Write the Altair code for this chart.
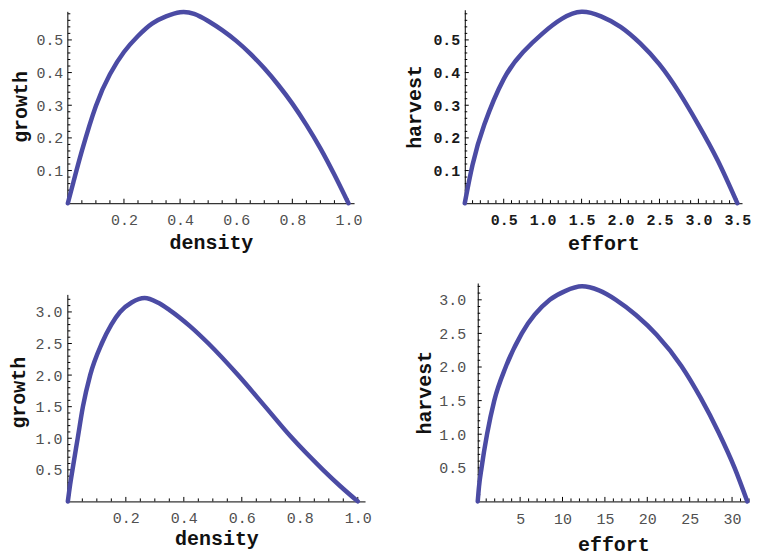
import altair as alt
import pandas as pd

FONT = "Liberation Mono"
LINE_COLOR = "#4b4ba4"
GRAY = "#505050"

# ---- Panel A (top-left): density vs growth
a_density = [0, 0.02, 0.05, 0.10, 0.15, 0.20, 0.25, 0.30, 0.35, 0.40, 0.45, 0.50, 0.55, 0.60, 0.65, 0.70, 0.75, 0.80, 0.85, 0.90, 0.95, 1.0]
a_growth = [0, 0.065, 0.16, 0.298, 0.395, 0.463, 0.512, 0.55, 0.572, 0.585, 0.580, 0.558, 0.53, 0.497, 0.458, 0.413, 0.362, 0.305, 0.24, 0.168, 0.087, 0]

# ---- Panel B (top-right): effort vs harvest
b_effort = [0, 0.1, 0.25, 0.5, 0.75, 1.0, 1.25, 1.5, 1.75, 2.0, 2.25, 2.5, 2.75, 3.0, 3.25, 3.5]
b_harvest = [0, 0.118, 0.24, 0.38, 0.463, 0.52, 0.565, 0.586, 0.572, 0.54, 0.49, 0.425, 0.34, 0.24, 0.13, 0]

# ---- Panel C (bottom-left): density vs growth
c_density = [0, 0.008, 0.016, 0.034, 0.052, 0.077, 0.117, 0.15, 0.18, 0.22, 0.265, 0.31, 0.351, 0.42, 0.485, 0.587, 0.677, 0.768, 0.88, 0.94, 1.0]
c_growth = [0, 0.27, 0.5, 1.0, 1.5, 2.0, 2.5, 2.8, 3.0, 3.15, 3.22, 3.15, 3.03, 2.78, 2.5, 2.0, 1.52, 1.03, 0.5, 0.24, 0]

# ---- Panel D (bottom-right): effort vs harvest
d_effort = [0, 0.15, 0.45, 1.1, 1.95, 3.3, 5.2, 8.5, 10.3, 12.3, 14.3, 16.3, 18.7, 21.1, 24.0, 26.3, 28.4, 30.3, 31.8]
d_harvest = [0, 0.22, 0.5, 1.0, 1.5, 2.0, 2.5, 3.0, 3.13, 3.2, 3.14, 3.0, 2.77, 2.48, 2.02, 1.54, 1.03, 0.5, 0]

# ---- tick labels / tick positions
a_x_major = [0.2, 0.4, 0.6, 0.8, 1.0]
a_x_minor = [round(i * 0.05, 2) for i in range(1, 21) if i % 4]
a_y_major = [0.1, 0.2, 0.3, 0.4, 0.5]
a_y_minor = [round(i * 0.02, 2) for i in range(1, 30) if i % 5]

b_x_major = [0.5, 1.0, 1.5, 2.0, 2.5, 3.0, 3.5]
b_x_minor = [round(i * 0.1, 1) for i in range(1, 36) if i % 5]
b_y_major = a_y_major
b_y_minor = a_y_minor

c_x_major = a_x_major
c_x_minor = a_x_minor
c_y_major = [0.5, 1.0, 1.5, 2.0, 2.5, 3.0]
c_y_minor = [round(i * 0.1, 1) for i in range(1, 33) if i % 5]

d_x_major = [5, 10, 15, 20, 25, 30]
d_x_minor = [i for i in range(1, 33) if i % 5]
d_y_major = c_y_major
d_y_minor = c_y_minor


def panel(xs, ys, xname, yname, xdom, ydom, w, h,
          x_major, x_minor, y_major, y_minor, xfmt, yfmt,
          label_color, label_weight, x_lp, x_tp, y_lp, y_tp, y_line_top=None,
          interp="monotone"):
    df = pd.DataFrame({xname: xs, yname: ys})
    xscale = alt.Scale(domain=xdom, nice=False, zero=False)
    yscale = alt.Scale(domain=ydom, nice=False, zero=False)
    common = dict(ticks=False, grid=False, domainColor="#000000", domainWidth=1,
                  labelFont=FONT, labelFontSize=15, labelColor=label_color,
                  labelFontWeight=label_weight, labelFlush=False, labelOverlap=False,
                  titleFont=FONT, titleFontSize=20, titleFontWeight="bold",
                  titleColor="#111111")
    xaxis = alt.Axis(values=x_major, format=xfmt, title=xname, labelPadding=x_lp,
                     titlePadding=x_tp, **common)
    yaxis = alt.Axis(values=y_major, format=yfmt, title=yname, labelPadding=y_lp,
                     titlePadding=y_tp, domain=(y_line_top is None), **common)

    line = alt.Chart(df).mark_line(color=LINE_COLOR, strokeWidth=4.5,
                                   interpolate=interp, strokeCap="round",
                                   strokeJoin="round").encode(
        x=alt.X(f"{xname}:Q", scale=xscale, axis=xaxis),
        y=alt.Y(f"{yname}:Q", scale=yscale, axis=yaxis),
    )

    def xticks(vals, ln):
        return alt.Chart(pd.DataFrame({xname: vals})).mark_rule(
            color="#000000", strokeWidth=1).encode(
            x=alt.X(f"{xname}:Q", scale=xscale, axis=xaxis),
            y=alt.value(h), y2=alt.value(h - ln))

    def yticks(vals, ln):
        return alt.Chart(pd.DataFrame({yname: vals})).mark_rule(
            color="#000000", strokeWidth=1).encode(
            y=alt.Y(f"{yname}:Q", scale=yscale, axis=yaxis),
            x=alt.value(0), x2=alt.value(ln))

    layers = [xticks(x_minor, 3), xticks(x_major, 4.5),
              yticks(y_minor, 2.5), yticks(y_major, 4)]
    if y_line_top is not None:
        ydf = pd.DataFrame({yname: [0], "top": [y_line_top]})
        layers.append(alt.Chart(ydf).mark_rule(color="#000000", strokeWidth=1).encode(
            y=alt.Y(f"{yname}:Q", scale=yscale, axis=yaxis),
            y2=alt.Y2("top:Q"),
            x=alt.value(0)))
    layers.append(line)
    return alt.layer(*layers).properties(width=w, height=h)


pa = panel(a_density, a_growth, "density", "growth", [0, 1.02], [0, 0.5924], 287, 194,
           a_x_major, a_x_minor, a_y_major, a_y_minor, ".1f", ".1f",
           GRAY, "normal", 9, 5, 5, 5, y_line_top=0.586, interp="natural")
pb = panel(b_effort, b_harvest, "effort", "harvest", [0, 3.56], [0, 0.5924], 278, 194,
           b_x_major, b_x_minor, b_y_major, b_y_minor, ".1f", ".1f",
           "#1a1a1a", "bold", 9, 6, 5, 8, interp="natural")
pc = panel(c_density, c_growth, "density", "growth", [0, 1.025], [0, 3.458], 298, 219,
           c_x_major, c_x_minor, c_y_major, c_y_minor, ".1f", ".1f",
           GRAY, "normal", 9, 3, 6, 6, y_line_top=3.27)
pd_ = panel(d_effort, d_harvest, "effort", "harvest", [0, 32], [0, 3.25], 272, 219,
            d_x_major, d_x_minor, d_y_major, d_y_minor, "d", ".1f",
            GRAY, "normal", 10, 8, 12, 4)

top = alt.hconcat(pa, pb, spacing=42)
bottom = alt.hconcat(pc, pd_, spacing=42)
chart = alt.vconcat(top, bottom, spacing=30).properties(
    padding={"left": 0, "top": 0, "right": 0, "bottom": 6}
).configure_view(stroke=None)

chart.save("out.html", embed_options={"renderer": "svg", "actions": False})
